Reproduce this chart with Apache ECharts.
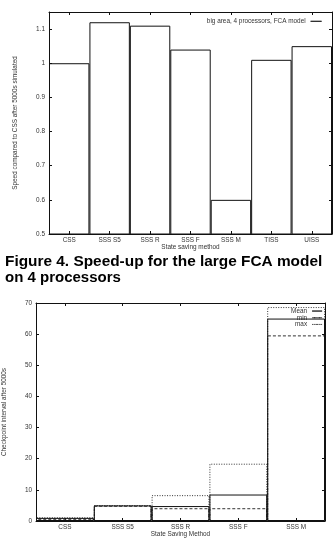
<!DOCTYPE html>
<html>
<head>
<meta charset="utf-8">
<script src="https://cdn.jsdelivr.net/npm/echarts@6/dist/echarts.min.js"></script>
<style>
  html, body { margin: 0; padding: 0; background: #fff; }
  #chart { width: 333px; height: 552px; }
</style>
</head>
<body>
<div id="chart"></div>
<script>
// top figure: speed-up per state saving method
const speedCategories = ['CSS', 'SSS S5', 'SSS R', 'SSS F', 'SSS M', 'TISS', 'UISS'];
const speedValues = [1.0, 1.12, 1.11, 1.04, 0.60, 1.01, 1.05];
const speedTicks = [0.5, 0.6, 0.7, 0.8, 0.9, 1, 1.1];
const speedMax = 1.15;

// bottom figure: checkpoint interval
const intervalCategories = ['CSS', 'SSS S5', 'SSS R', 'SSS F', 'SSS M'];
const meanValues = [1.0, 5.0, 4.8, 8.5, 65.0];
const minValues = [0.7, 4.9, 4.1, 4.1, 59.6];
const maxValues = [1.2, 5.1, 8.3, 18.4, 68.7];
const intervalTicks = [0, 10, 20, 30, 40, 50, 60, 70];

const FONT = 'Liberation Sans';
const TEXT = '#333';
const INK = '#111';
const small = { fontFamily: FONT, fontSize: 6.4, color: TEXT };

const chart = echarts.init(document.getElementById('chart'), null, { renderer: 'canvas' });

function catAxis(gridIndex, data, position, withLabels, nameText, nameGap) {
  return {
    type: 'category',
    gridIndex: gridIndex,
    position: position,
    data: data,
    boundaryGap: true,
    name: withLabels ? nameText : '',
    nameLocation: 'middle',
    nameGap: nameGap,
    nameTextStyle: small,
    axisLine: { show: true, onZero: false, lineStyle: { color: INK, width: 1 } },
    axisTick: { show: true, inside: true, length: 3, alignWithLabel: true, lineStyle: { color: INK } },
    axisLabel: { show: withLabels, margin: 3.5, ...small },
    splitLine: { show: false }
  };
}

function valAxis(gridIndex, ticks, max, position, withLabels, nameText, showMax, nameGap) {
  return {
    type: 'value',
    gridIndex: gridIndex,
    position: position,
    min: ticks[0],
    max: max,
    interval: ticks[1] - ticks[0],
    name: withLabels ? nameText : '',
    nameLocation: 'middle',
    nameGap: nameGap || 31,
    nameTextStyle: small,
    axisLine: { show: true, lineStyle: { color: INK, width: 1 } },
    axisTick: { show: true, inside: true, length: 3, lineStyle: { color: INK } },
    axisLabel: {
      show: withLabels, margin: 4, showMaxLabel: showMax,
      formatter: (v) => String(Math.round(v * 100) / 100),
      ...small
    },
    splitLine: { show: false }
  };
}

function boxSeries(name, xi, yi, values, borderType, color, z) {
  return {
    name: name,
    type: 'bar',
    xAxisIndex: xi,
    yAxisIndex: yi,
    data: values,
    barWidth: '100%',
    barGap: '-100%',
    barCategoryGap: '0%',
    z: z,
    itemStyle: { color: 'rgba(0,0,0,0)', borderColor: color, borderWidth: 1, borderType: borderType },
    emphasis: { disabled: true },
    silent: true
  };
}

function legendLine(name, borderType) {
  return {
    name: name,
    icon: 'rect',
    itemStyle: { color: 'rgba(0,0,0,0)', borderColor: INK, borderWidth: 0.8, borderType: borderType }
  };
}

const option = {
  animation: false,
  backgroundColor: '#fff',
  grid: [
    { left: 49, top: 12, width: 283, height: 222, containLabel: false, outerBoundsMode: 'none' },
    { left: 36, top: 303, width: 289, height: 218, containLabel: false, outerBoundsMode: 'none' }
  ],
  xAxis: [
    catAxis(0, speedCategories, 'bottom', true, 'State saving method', 10.5),
    catAxis(0, speedCategories, 'top', false, '', 0),
    catAxis(1, intervalCategories, 'bottom', true, 'State Saving Method', 10),
    catAxis(1, intervalCategories, 'top', false, '', 0)
  ],
  yAxis: [
    valAxis(0, speedTicks, speedMax, 'left', true, 'Speed compared to CSS after 5000s simulated', false, 31),
    valAxis(0, speedTicks, speedMax, 'right', false, '', false),
    valAxis(1, intervalTicks, intervalTicks[intervalTicks.length - 1], 'left', true, 'Checkpoint interval after 5000s', true, 28.5),
    valAxis(1, intervalTicks, intervalTicks[intervalTicks.length - 1], 'right', false, '', true)
  ],
  legend: [
    {
      data: [legendLine('big area, 4 processors, FCA model', 'solid')],
      right: 11, top: 18, padding: 0,
      align: 'right', orient: 'vertical',
      itemWidth: 11, itemHeight: 0, itemGap: 0,
      selectedMode: false,
      textStyle: { ...small, lineHeight: 6.6 }
    },
    {
      data: [
        legendLine('Mean', 'solid'),
        legendLine('min', [3, 2]),
        legendLine('max', [1, 1.5])
      ],
      right: 10.5, top: 307.7, padding: 0,
      align: 'right', orient: 'vertical',
      itemWidth: 10, itemHeight: 0, itemGap: 0,
      selectedMode: false,
      textStyle: { ...small, lineHeight: 6.7 }
    }
  ],
  series: [
    boxSeries('big area, 4 processors, FCA model', 0, 0, speedValues, 'solid', INK, 2),
    boxSeries('max', 2, 2, maxValues, [1, 1.5], '#333', 2),
    boxSeries('min', 2, 2, minValues, [3, 2], '#333', 3),
    boxSeries('Mean', 2, 2, meanValues, 'solid', INK, 4)
  ],
  graphic: [
    {
      type: 'text', left: 5, top: 254,
      style: { text: 'Figure 4. Speed-up for the large FCA model', font: 'bold 15.4px "Liberation Sans"', fill: '#000' }
    },
    {
      type: 'text', left: 5, top: 270,
      style: { text: 'on 4 processors', font: 'bold 15px "Liberation Sans"', fill: '#000' }
    }
  ]
};

chart.setOption(option);
</script>
</body>
</html>
